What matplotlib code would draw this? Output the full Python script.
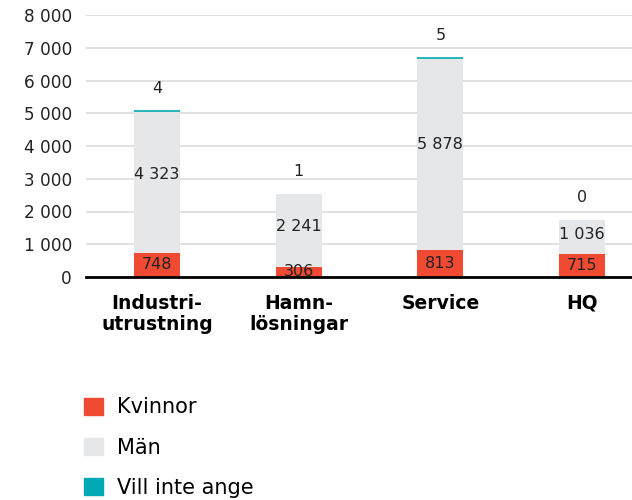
import matplotlib.pyplot as plt
from matplotlib.patches import Patch
import numpy as np

# data
categories = ["Industri-\nutrustning", "Hamn-\nlösningar", "Service", "HQ"]
kvinnor = [748, 306, 813, 715]
man = [4323, 2241, 5878, 1036]
vill_inte = [4, 1, 5, 0]
yticks = [0, 1000, 2000, 3000, 4000, 5000, 6000, 7000, 8000]

RED = "#F04B32"
GRAY = "#E6E7E8"
TEAL = "#00AAB4"


def fmt(v):
    return "{:,}".format(v).replace(",", " ")


plt.rcParams['font.family'] = ['DejaVu Sans']

fig = plt.figure(figsize=(6.32, 5.0), dpi=100)
ax = fig.add_axes([86 / 632, 1 - 277 / 500, 546 / 632, 262 / 500])

x = np.arange(len(categories))
w = 0.325
kv = np.array(kvinnor)
mn = np.array(man)
vi = np.array(vill_inte)

ax.bar(x, kv, w, color=RED, zorder=3)
ax.bar(x, mn, w, bottom=kv, color=GRAY, zorder=3)
# tiny segments: only the ones with a few people show as a thin line
ax.bar(x, vi, w, bottom=kv + mn, color=TEAL, zorder=3,
       edgecolor=TEAL, linewidth=[1.2 if v >= 2 else 0 for v in vill_inte])

for i in range(len(categories)):
    ax.text(x[i], kv[i] / 2, fmt(kv[i]), ha="center", va="center",
            fontsize=11.5, color="#222222", zorder=4)
    ax.text(x[i], kv[i] + mn[i] * 0.55, fmt(mn[i]), ha="center", va="center",
            fontsize=11.5, color="#222222", zorder=4)
    ax.text(x[i], kv[i] + mn[i] + vi[i] + 680, fmt(vi[i]), ha="center",
            va="center", fontsize=11.5, color="#222222", zorder=4)

ax.set_xlim(-0.501, 3.353)
ax.set_ylim(0, 8000)
ax.set_yticks(yticks)
ax.set_yticklabels([fmt(t) for t in yticks], fontsize=12.2, color="#222222")
ax.set_xticks(x)
ax.set_xticklabels(categories, fontsize=13.5, fontweight="bold",
                   linespacing=1.15, va="top")
ax.tick_params(axis="both", length=0)
ax.tick_params(axis="y", pad=10)
ax.tick_params(axis="x", pad=12)
ax.yaxis.grid(True, color="#DCDCDC", linewidth=1.2, zorder=0)
for s in ["top", "right", "left"]:
    ax.spines[s].set_visible(False)
ax.spines["bottom"].set_color("black")
ax.spines["bottom"].set_linewidth(2)
ax.spines["bottom"].set_zorder(5)

handles = [Patch(color=RED, label="Kvinnor"),
           Patch(color=GRAY, label="Män"),
           Patch(color=TEAL, label="Vill inte ange")]
fig.legend(handles=handles, loc="upper left", bbox_to_anchor=(76 / 632, 1 - 389 / 500),
           frameon=False, fontsize=15, handlelength=0.9, handleheight=0.9,
           handletextpad=0.65, labelspacing=0.97, borderaxespad=0)

fig.savefig("out.png", dpi=100)
